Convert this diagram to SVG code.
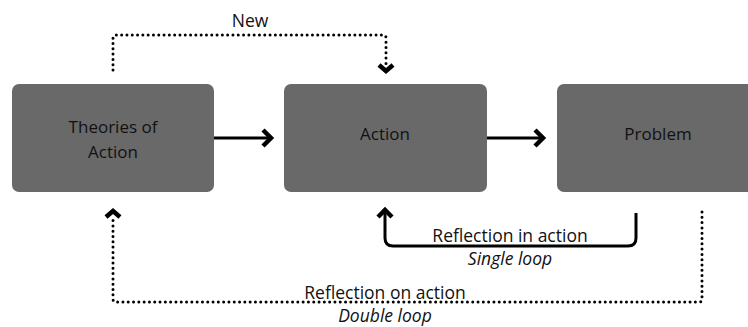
<svg xmlns="http://www.w3.org/2000/svg" width="748" height="327" viewBox="0 0 748 327">
<style>
.box{fill:#696969;}
.lbl{font-family:"Open Sans","Noto Sans",sans-serif;font-size:17.5px;fill:#111;text-anchor:middle;}
.bx{font-size:17px;}
.it{font-style:italic;}
.solid{fill:none;stroke:#000;stroke-width:3;}
.dot{fill:none;stroke:#000;stroke-width:3;stroke-linecap:round;stroke-dasharray:0 5.3;}
.head{fill:none;stroke:#000;stroke-width:4.5;stroke-linejoin:miter;stroke-miterlimit:10;}
</style>
<rect width="748" height="327" fill="#fff"/>
<g id="theories">
<rect class="box" x="12" y="84" width="202" height="108" rx="7"/>
<text class="lbl bx" x="113" y="133">Theories of</text>
<text class="lbl bx" x="113" y="158">Action</text>
</g>
<g id="action">
<rect class="box" x="284" y="84" width="203" height="108" rx="7"/>
<text class="lbl bx" x="385" y="140">Action</text>
</g>
<g id="problem">
<rect class="box" x="557" y="84" width="200" height="108" rx="7"/>
<text class="lbl bx" x="658" y="140">Problem</text>
</g>
<g id="connectors">
<path class="solid" d="M214,138 H270"/>
<path class="head" d="M263,130 L271,138 L263,146"/>
<path class="solid" d="M487,138 H542"/>
<path class="head" d="M535,130 L543,138 L535,146"/>
<path class="dot" d="M113,70 V38 Q113,35 116,35 H383 Q386,35 386,38 V64"/>
<path class="head" d="M379,65 L386,71 L393,65"/>
<text class="lbl" x="250" y="27">New</text>
<path class="solid" d="M636,213 V238 Q636,246 628,246 H393 Q385,246 385,238 V213"/>
<path class="head" d="M378,217 L385,210 L392,217"/>
<text class="lbl" x="510" y="242">Reflection in action</text>
<text class="lbl it" x="510" y="265">Single loop</text>
<path class="dot" d="M702,212 V299 Q702,302 699,302 H116 Q113,302 113,299 V219"/>
<path class="head" d="M106,217 L113,211 L120,217"/>
<text class="lbl" x="385" y="299">Reflection on action</text>
<text class="lbl it" x="385" y="322">Double loop</text>
</g>
</svg>
